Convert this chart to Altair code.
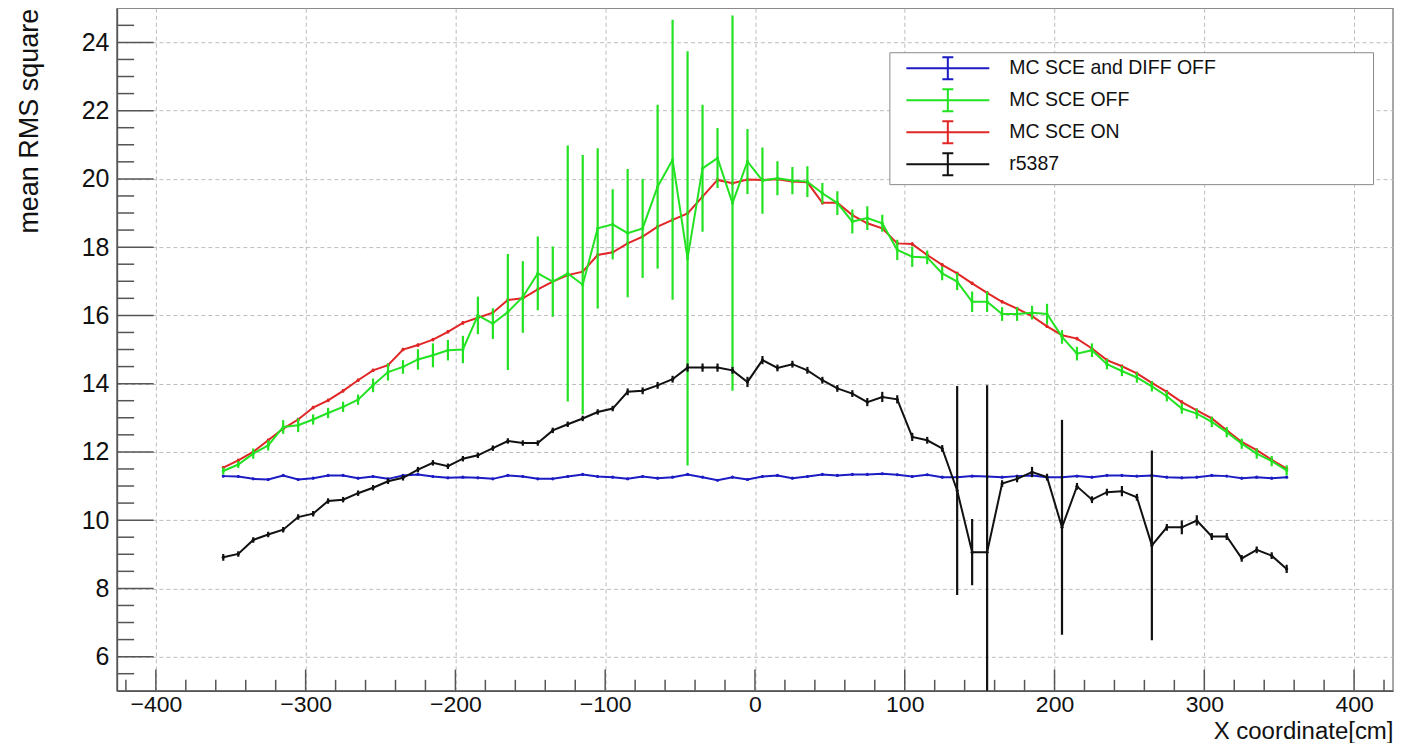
import altair as alt
import pandas as pd

# ---------------- data ----------------
x_cm = [-355, -345, -335, -325, -315, -305, -295, -285, -275, -265,
        -255, -245, -235, -225, -215, -205, -195, -185, -175, -165,
        -155, -145, -135, -125, -115, -105, -95, -85, -75, -65,
        -55, -45, -35, -25, -15, -5, 5, 15, 25, 35,
        45, 55, 65, 75, 85, 95, 105, 115, 125, 135,
        145, 155, 165, 175, 185, 195, 205, 215, 225, 235,
        245, 255, 265, 275, 285, 295, 305, 315, 325, 335,
        345, 355]

series_names = ["MC SCE and DIFF OFF", "MC SCE OFF", "MC SCE ON", "r5387"]
series_colors = ["#1c1cc4", "#22e222", "#e02626", "#111111"]

blue_vals = [11.29, 11.28, 11.21, 11.19, 11.31, 11.19, 11.23, 11.31, 11.31, 11.23,
             11.28, 11.21, 11.31, 11.34, 11.28, 11.24, 11.26, 11.24, 11.21, 11.31,
             11.28, 11.21, 11.21, 11.28, 11.34, 11.28, 11.26, 11.21, 11.28, 11.23,
             11.26, 11.34, 11.26, 11.17, 11.26, 11.19, 11.28, 11.31, 11.23, 11.28,
             11.34, 11.31, 11.34, 11.34, 11.36, 11.33, 11.28, 11.33, 11.26, 11.26,
             11.29, 11.28, 11.26, 11.29, 11.31, 11.26, 11.26, 11.29, 11.26, 11.31,
             11.31, 11.29, 11.31, 11.26, 11.24, 11.26, 11.31, 11.29, 11.23, 11.26,
             11.23, 11.26]
blue_errs = [0.03] * 72

green_vals = [11.44, 11.63, 11.95, 12.19, 12.73, 12.78, 12.95, 13.14, 13.32, 13.53,
              13.95, 14.34, 14.49, 14.71, 14.83, 14.98, 15.00, 16.00, 15.76, 16.10,
              16.54, 17.23, 16.99, 17.23, 16.90, 18.55, 18.67, 18.41, 18.55, 19.77,
              20.56, 17.67, 20.31, 20.61, 19.29, 20.51, 19.95, 20.02, 19.95, 19.92,
              19.58, 19.29, 18.75, 18.85, 18.70, 17.92, 17.72, 17.70, 17.23, 16.99,
              16.40, 16.40, 16.04, 16.04, 16.08, 16.04, 15.37, 14.88, 14.98, 14.57,
              14.37, 14.18, 13.92, 13.63, 13.27, 13.12, 12.88, 12.58, 12.24, 11.95,
              11.73, 11.46]
green_errs = [0.10, 0.10, 0.15, 0.15, 0.20, 0.20, 0.15, 0.15, 0.15, 0.15,
              0.20, 0.25, 0.20, 0.30, 0.35, 0.30, 0.40, 0.55, 0.45, 1.70,
              1.05, 1.08, 1.03, 3.75, 3.80, 2.35, 1.03, 1.88, 1.45, 2.40,
              4.10, 6.07, 1.86, 0.88, 5.50, 0.95, 0.97, 0.50, 0.40, 0.45,
              0.30, 0.35, 0.35, 0.35, 0.25, 0.30, 0.30, 0.20, 0.20, 0.25,
              0.30, 0.30, 0.20, 0.20, 0.20, 0.30, 0.20, 0.20, 0.20, 0.15,
              0.15, 0.15, 0.15, 0.15, 0.15, 0.15, 0.15, 0.15, 0.15, 0.15,
              0.15, 0.15]

red_vals = [11.54, 11.75, 12.00, 12.34, 12.68, 12.95, 13.30, 13.51, 13.79, 14.10,
            14.39, 14.54, 15.00, 15.13, 15.29, 15.52, 15.78, 15.93, 16.08, 16.45,
            16.50, 16.76, 16.99, 17.18, 17.28, 17.77, 17.85, 18.11, 18.31, 18.60,
            18.80, 18.99, 19.48, 19.97, 19.87, 19.98, 19.97, 19.99, 19.92, 19.90,
            19.30, 19.30, 18.94, 18.70, 18.55, 18.11, 18.09, 17.77, 17.48, 17.23,
            16.94, 16.66, 16.40, 16.20, 15.98, 15.68, 15.42, 15.32, 15.03, 14.69,
            14.51, 14.30, 14.02, 13.76, 13.46, 13.22, 12.98, 12.63, 12.29, 12.05,
            11.77, 11.51]
red_errs = [0.05] * 72

black_vals = [8.91, 9.01, 9.42, 9.58, 9.72, 10.09, 10.19, 10.56, 10.60, 10.79,
              10.95, 11.14, 11.24, 11.48, 11.68, 11.58, 11.80, 11.90, 12.11, 12.32,
              12.26, 12.26, 12.63, 12.81, 12.98, 13.17, 13.27, 13.76, 13.79, 13.95,
              14.13, 14.47, 14.47, 14.47, 14.39, 14.05, 14.69, 14.46, 14.57, 14.39,
              14.10, 13.86, 13.71, 13.46, 13.61, 13.54, 12.44, 12.34, 12.10, 10.87,
              9.06, 9.06, 11.07, 11.21, 11.41, 11.26, 9.79, 10.99, 10.60, 10.82,
              10.85, 10.67, 9.26, 9.79, 9.79, 9.99, 9.52, 9.52, 8.88, 9.13,
              8.96, 8.57]
black_errs = [0.10, 0.08, 0.08, 0.08, 0.08, 0.08, 0.08, 0.08, 0.08, 0.08,
              0.08, 0.08, 0.08, 0.08, 0.08, 0.08, 0.08, 0.08, 0.08, 0.08,
              0.08, 0.08, 0.08, 0.08, 0.08, 0.08, 0.08, 0.10, 0.10, 0.10,
              0.10, 0.12, 0.12, 0.12, 0.10, 0.15, 0.12, 0.10, 0.10, 0.10,
              0.10, 0.10, 0.10, 0.12, 0.15, 0.12, 0.12, 0.10, 0.10, 3.06,
              0.97, 4.89, 0.10, 0.10, 0.15, 0.10, 3.15, 0.10, 0.10, 0.10,
              0.15, 0.10, 2.78, 0.10, 0.20, 0.15, 0.10, 0.10, 0.10, 0.10,
              0.10, 0.12]

x_major_ticks = [-400, -300, -200, -100, 0, 100, 200, 300, 400]
x_minor_ticks = [-420, -380, -360, -340, -320, -280, -260, -240, -220, -180,
                 -160, -140, -120, -80, -60, -40, -20, 20, 40, 60, 80, 120,
                 140, 160, 180, 220, 240, 260, 280, 320, 340, 360, 380, 420]
y_major_ticks = [6, 8, 10, 12, 14, 16, 18, 20, 22, 24]
y_minor_ticks = [5.5, 6.5, 7, 7.5, 8.5, 9, 9.5, 10.5, 11, 11.5, 12.5, 13, 13.5,
                 14.5, 15, 15.5, 16.5, 17, 17.5, 18.5, 19, 19.5, 20.5, 21, 21.5,
                 22.5, 23, 23.5, 24.5]

X_DOM = [-426, 426]
Y_DOM = [5, 25]

# ---------------- tables ----------------
rows = []
for name, vals, errs in zip(series_names,
                            [blue_vals, green_vals, red_vals, black_vals],
                            [blue_errs, green_errs, red_errs, black_errs]):
    for xv, yv, ev in zip(x_cm, vals, errs):
        rows.append({"series": name, "x": xv, "y": yv, "lo": yv - ev, "hi": yv + ev})
df = pd.DataFrame(rows)

xt = pd.DataFrame(
    [{"x": v, "y0": Y_DOM[0], "y1": Y_DOM[0] + 0.62} for v in x_major_ticks]
    + [{"x": v, "y0": Y_DOM[0], "y1": Y_DOM[0] + 0.32} for v in x_minor_ticks])
yt = pd.DataFrame(
    [{"y": v, "x0": X_DOM[0], "x1": X_DOM[0] + 24.5} for v in y_major_ticks]
    + [{"y": v, "x0": X_DOM[0], "x1": X_DOM[0] + 11.5} for v in y_minor_ticks])

FONT = "Liberation Sans"
xs = alt.Scale(domain=X_DOM, nice=False, zero=False)
ys = alt.Scale(domain=Y_DOM, nice=False, zero=False)

x_axis = alt.Axis(
    values=x_major_ticks, grid=True, gridDash=[4, 3], gridColor="#bdbdbd",
    gridWidth=1, ticks=False, tickSize=0, labelFontSize=23, labelFont=FONT,
    labelColor="#111111", labelPadding=3,
    labelExpr="datum.value < 0 ? '\u2212' + format(-datum.value, 'd') : format(datum.value, 'd')",
    domain=True, domainColor="#555555", domainWidth=1.5,
    title="X coordinate[cm]", titleFont=FONT, titleFontSize=24,
    titleFontWeight="normal", titleColor="#111111", titleAnchor="end",
    titleAlign="right", titleBaseline="alphabetic", titleX=1277, titleY=48)
y_axis = alt.Axis(
    values=y_major_ticks, grid=True, gridDash=[4, 3], gridColor="#bdbdbd",
    gridWidth=1, ticks=False, tickSize=0, labelFontSize=25, labelFont=FONT,
    labelColor="#111111", labelPadding=8, format="d",
    domain=True, domainColor="#555555", domainWidth=1.5,
    title="mean RMS square", titleFont=FONT, titleFontSize=27,
    titleFontWeight="normal", titleColor="#111111", titleAnchor="end",
    titleAlign="right", titleBaseline="middle", titleX=-87, titleY=0)

# legend symbol: line with an error-bar "I"; the far zero-length move widens the box
legend_symbol = ("M-4.15,0L4.15,0M0,-1.1L0,1.1M-0.55,-1.1L0.55,-1.1"
                 "M-0.55,1.1L0.55,1.1M41.6,0L41.6,0")
legend = alt.Legend(
    orient="none", legendX=773, legendY=44, title=None,
    fillColor="white", strokeColor="#8a8a8a", padding=5,
    symbolType=legend_symbol,
    symbolSize=400, symbolStrokeWidth=2, symbolOffset=42.5,
    labelOffset=50.5, labelFontSize=19.5, labelFont=FONT, labelColor="#111111",
    labelLimit=600, rowPadding=2)

color = alt.Color("series:N",
                  scale=alt.Scale(domain=series_names, range=series_colors),
                  legend=legend)

base = alt.Chart(df)

# grid / axes carrier
axes_layer = base.mark_point(opacity=0).encode(
    x=alt.X("x:Q", scale=xs, axis=x_axis),
    y=alt.Y("y:Q", scale=ys, axis=y_axis))

layers = [axes_layer]
for name in [series_names[0], series_names[2], series_names[1], series_names[3]]:
    sub = base.transform_filter(alt.datum.series == name)
    layers.append(sub.mark_rule(strokeWidth=2.2, clip=True).encode(
        x=alt.X("x:Q", scale=xs), y=alt.Y("lo:Q", scale=ys), y2="hi:Q",
        color=color))
    layers.append(sub.mark_line(strokeWidth=2, clip=True).encode(
        x=alt.X("x:Q", scale=xs), y=alt.Y("y:Q", scale=ys), color=color))
    layers.append(sub.mark_point(filled=True, size=10, opacity=1, clip=True).encode(
        x=alt.X("x:Q", scale=xs), y=alt.Y("y:Q", scale=ys), color=color))

xtick_layer = alt.Chart(xt).mark_rule(color="#555555", strokeWidth=1.5).encode(
    x=alt.X("x:Q", scale=xs), y=alt.Y("y0:Q", scale=ys), y2="y1:Q")
ytick_layer = alt.Chart(yt).mark_rule(color="#555555", strokeWidth=1.5).encode(
    y=alt.Y("y:Q", scale=ys), x=alt.X("x0:Q", scale=xs), x2="x1:Q")
layers += [xtick_layer, ytick_layer]

chart = alt.layer(*layers).properties(
    width=1277, height=683,
    autosize=alt.AutoSizeParams(type="none"),
    padding={"left": 109, "top": 0, "right": 10, "bottom": 52},
).configure_view(stroke="#8a8a8a", strokeWidth=1.5)

chart.save("out.html", embed_options={"renderer": "svg", "actions": False})
